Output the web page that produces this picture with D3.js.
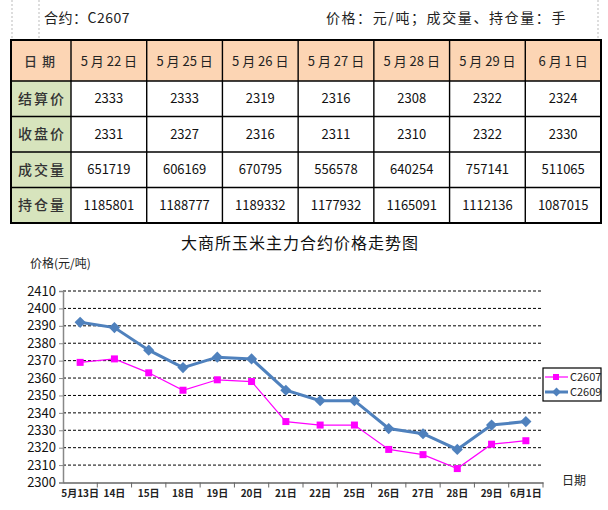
<!DOCTYPE html>
<html>
<head>
<meta charset="utf-8">
<script src="https://cdn.jsdelivr.net/npm/d3@7"></script>
<style>
  body { margin: 0; background: #fff; }
  svg text { font-family: "Noto Sans CJK SC", "Liberation Sans", sans-serif; }
</style>
</head>
<body>
<div id="chart"></div>
<script>
// table data
const tableDates = ["5 月 22 日", "5 月 25 日", "5 月 26 日", "5 月 27 日", "5 月 28 日", "5 月 29 日", "6 月 1 日"];
const rowLabels = ["结算价", "收盘价", "成交量", "持仓量"];
const settle = [2333, 2333, 2319, 2316, 2308, 2322, 2324];
const closePrice = [2331, 2327, 2316, 2311, 2310, 2322, 2330];
const volume = [651719, 606169, 670795, 556578, 640254, 757141, 511065];
const openInterest = [1185801, 1188777, 1189332, 1177932, 1165091, 1112136, 1087015];

// chart data
const days = ["5月13日", "14日", "15日", "18日", "19日", "20日", "21日", "22日", "25日", "26日", "27日", "28日", "29日", "6月1日"];
const c2607 = [2369, 2371, 2363, 2353, 2359, 2358, 2335, 2333, 2333, 2319, 2316, 2308, 2322, 2324];
const c2609 = [2392, 2389, 2376, 2366, 2372, 2371, 2353, 2347, 2347, 2331, 2328, 2319, 2333, 2335];
const yTicks = [2300, 2310, 2320, 2330, 2340, 2350, 2360, 2370, 2380, 2390, 2400, 2410];

const W = 608, H = 510;
const svg = d3.select("#chart").append("svg")
  .attr("width", W).attr("height", H);

// page guide lines (excel style)
[12, 39, 598].forEach(x => {
  svg.append("line").attr("x1", x).attr("x2", x).attr("y1", 0).attr("y2", 40)
    .attr("stroke", "#bbb").attr("stroke-dasharray", "2,2");
});

svg.append("text").attr("x", 44).attr("y", 23)
  .attr("font-size", 14).attr("letter-spacing", 0.5).attr("fill", "#222").text("合约：C2607");
svg.append("text").attr("x", 567).attr("y", 23).attr("text-anchor", "end")
  .attr("font-size", 14).attr("letter-spacing", 1.6).attr("fill", "#222").text("价格：元/吨；成交量、持仓量：手");

// ---- table ----
const tx = d3.scaleBand().domain(d3.range(7)).range([71, 601]);
const rowTops = [81, 116.5, 152, 187.5];
const rowH = 35.5;
const rows = [settle, closePrice, volume, openInterest];

svg.append("rect").attr("x", 11).attr("y", 40).attr("width", 590).attr("height", 41).attr("fill", "#fcd5b4");
svg.append("rect").attr("x", 11).attr("y", 81).attr("width", 60).attr("height", 142).attr("fill", "#d7e4bd");

svg.append("text").attr("x", 42).attr("y", 61).attr("dy", "0.35em")
  .attr("text-anchor", "middle").attr("font-size", 13).attr("font-weight", 500)
  .attr("letter-spacing", 5).attr("fill", "#333").text("日期");

svg.selectAll(".hdr").data(tableDates).enter().append("text")
  .attr("x", (d, i) => tx(i) + tx.bandwidth() / 2).attr("y", 61).attr("dy", "0.35em")
  .attr("text-anchor", "middle").attr("font-size", 13).attr("fill", "#222")
  .text(d => d);

rowLabels.forEach((lab, r) => {
  svg.append("text").attr("x", 42).attr("y", rowTops[r] + rowH / 2).attr("dy", "0.35em")
    .attr("text-anchor", "middle").attr("font-size", 14).attr("font-weight", 500)
    .attr("letter-spacing", 2).attr("fill", "#333").text(lab);
  svg.selectAll(".cell" + r).data(rows[r]).enter().append("text")
    .attr("x", (d, i) => tx(i) + tx.bandwidth() / 2).attr("y", rowTops[r] + rowH / 2).attr("dy", "0.35em")
    .attr("text-anchor", "middle").attr("font-size", 13).attr("fill", "#111")
    .attr("font-family", "Liberation Sans, sans-serif")
    .text(d => d);
});

const hLines = [40, 81, 116.5, 152, 187.5, 223];
hLines.forEach(y => svg.append("line").attr("x1", 11).attr("x2", 601).attr("y1", y).attr("y2", y)
  .attr("stroke", "#000").attr("stroke-width", 1.4));
const vLines = [11].concat(d3.range(7).map(i => tx(i))).concat([601]);
vLines.forEach(x => svg.append("line").attr("x1", x).attr("x2", x).attr("y1", 40).attr("y2", 223)
  .attr("stroke", "#000").attr("stroke-width", 1.4));
svg.append("rect").attr("x", 11).attr("y", 40).attr("width", 590).attr("height", 183)
  .attr("fill", "none").attr("stroke", "#000").attr("stroke-width", 2);

// ---- chart ----
svg.append("text").attr("x", 300).attr("y", 243).attr("dy", "0.35em").attr("text-anchor", "middle")
  .attr("font-size", 16).attr("letter-spacing", 1).attr("fill", "#111").text("大商所玉米主力合约价格走势图");
svg.append("text").attr("x", 30).attr("y", 264).attr("dy", "0.35em")
  .attr("font-size", 12).attr("fill", "#222").text("价格(元/吨)");

const x = d3.scaleBand().domain(days).range([63, 543]);
const y = d3.scaleLinear().domain([2300, 2410]).range([482.5, 291]);

svg.append("g").selectAll("line").data(yTicks.slice(1)).enter().append("line")
  .attr("x1", 63).attr("x2", 543).attr("y1", d => y(d)).attr("y2", d => y(d))
  .attr("stroke", "#000").attr("stroke-width", 1).attr("stroke-dasharray", "3,2");

const yAxis = svg.append("g").attr("transform", "translate(63,0)")
  .call(d3.axisLeft(y).tickValues(yTicks).tickSize(4).tickFormat(d3.format("d")));
yAxis.select(".domain").attr("stroke", "#888").attr("stroke-width", 1.5);
yAxis.selectAll(".tick line").attr("stroke", "#888");
yAxis.selectAll("text").attr("font-family", "Liberation Sans, sans-serif")
  .attr("font-size", 13).attr("fill", "#111").attr("x", -7);

const xAxis = svg.append("g").attr("transform", "translate(0,482.5)")
  .call(d3.axisBottom(x).tickSize(0).tickPadding(7));
xAxis.select(".domain").attr("stroke", "#666").attr("stroke-width", 1.5);
xAxis.selectAll("text").attr("font-size", 10).attr("font-weight", "bold").attr("fill", "#222");
svg.append("g").selectAll("line").data(days.slice(1).concat(["end"])).enter().append("line")
  .attr("x1", d => d === "end" ? x.range()[1] : x(d))
  .attr("x2", d => d === "end" ? x.range()[1] : x(d))
  .attr("y1", 482.5).attr("y2", 487.5).attr("stroke", "#666");

svg.append("text").attr("x", 562).attr("y", 481).attr("dy", "0.35em")
  .attr("font-size", 12).attr("fill", "#222").text("日期");

const cx = d => x(d) + x.bandwidth() / 2;
const line = d3.line().x((d, i) => cx(days[i])).y(d => y(d));

svg.append("path").datum(c2607).attr("d", line)
  .attr("fill", "none").attr("stroke", "#ff00ff").attr("stroke-width", 1.2);
svg.selectAll(".sq").data(c2607).enter().append("rect")
  .attr("x", (d, i) => cx(days[i]) - 3.5).attr("y", d => y(d) - 3.5)
  .attr("width", 7).attr("height", 7).attr("fill", "#ff00ff");

svg.append("path").datum(c2609).attr("d", line)
  .attr("fill", "none").attr("stroke", "#4f81bd").attr("stroke-width", 3);
const diamond = d3.symbol().type(d3.symbolDiamond2).size(80);
svg.selectAll(".dm").data(c2609).enter().append("path")
  .attr("d", diamond)
  .attr("transform", (d, i) => `translate(${cx(days[i])},${y(d)})`)
  .attr("fill", "#4f81bd");

// legend
const lg = svg.append("g");
lg.append("rect").attr("x", 543).attr("y", 368).attr("width", 58).attr("height", 33)
  .attr("fill", "#fff").attr("stroke", "#000").attr("stroke-width", 1.2);
lg.append("line").attr("x1", 545).attr("x2", 568).attr("y1", 377).attr("y2", 377)
  .attr("stroke", "#ff00ff").attr("stroke-width", 1.2);
lg.append("rect").attr("x", 553).attr("y", 374).attr("width", 6).attr("height", 6).attr("fill", "#ff00ff");
lg.append("line").attr("x1", 545).attr("x2", 568).attr("y1", 392).attr("y2", 392)
  .attr("stroke", "#4f81bd").attr("stroke-width", 3);
lg.append("path").attr("d", d3.symbol().type(d3.symbolDiamond2).size(50))
  .attr("transform", "translate(556.5,392)").attr("fill", "#4f81bd");
lg.append("text").attr("x", 570).attr("y", 377).attr("dy", "0.35em")
  .attr("font-family", "Liberation Sans, sans-serif").attr("font-size", 11).attr("fill", "#222").text("C2607");
lg.append("text").attr("x", 570).attr("y", 392).attr("dy", "0.35em")
  .attr("font-family", "Liberation Sans, sans-serif").attr("font-size", 11).attr("fill", "#222").text("C2609");
</script>
</body>
</html>
